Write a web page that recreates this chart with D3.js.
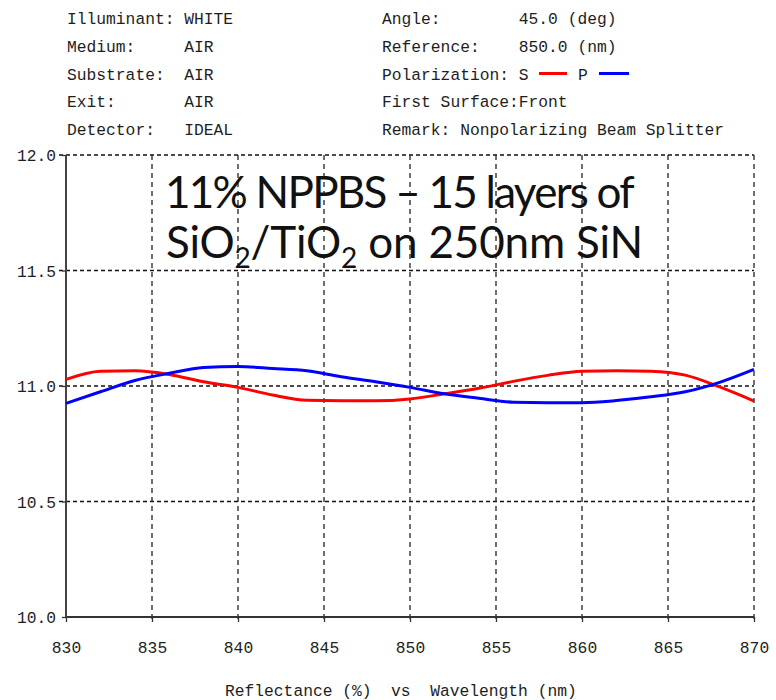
<!DOCTYPE html>
<html><head><meta charset="utf-8">
<script src="https://cdn.jsdelivr.net/npm/d3@7/dist/d3.min.js"></script>
<style>
body{margin:0;background:#fff}
.mono{font-family:"Liberation Mono","DejaVu Sans Mono",monospace;font-size:16.3px;fill:#1e1e1e;white-space:pre}
</style>
</head><body>
<svg id="chart" width="776" height="700"></svg>
<script>
// ---- data ----
const wavelengths = [830,832,834,836,838,840,842,844,846,848,850,852,854,856,858,860,862,864,866,868,870];
const sPolarization = [11.029,11.064,11.066,11.050,11.018,10.994,10.961,10.938,10.936,10.936,10.944,10.966,10.990,11.020,11.046,11.064,11.066,11.064,11.047,10.996,10.935];
const pPolarization = [10.925,10.975,11.024,11.055,11.080,11.084,11.076,11.066,11.040,11.018,10.994,10.966,10.947,10.930,10.928,10.928,10.937,10.953,10.975,11.016,11.072];
const xTicks = [830,835,840,845,850,855,860,865,870];
const yTicks = [10.0,10.5,11.0,11.5,12.0];
const headerLeft = ["Illuminant: WHITE","Medium:     AIR","Substrate:  AIR","Exit:       AIR","Detector:   IDEAL"];
const headerRight = ["Angle:        45.0 (deg)","Reference:    850.0 (nm)","Polarization: S","First Surface:Front","Remark: Nonpolarizing Beam Splitter"];
const xAxisTitle = "Reflectance (%)  vs  Wavelength (nm)";
const titleLine1 = "11% NPPBS \u2013 15 layers of";
const titleLine2 = [["SiO",false],["2",true],["/TiO",false],["2",true],[" on 250nm SiN",false]];

// ---- layout ----
const svg = d3.select("#chart");
const x = d3.scaleLinear().domain([830,870]).range([66,754]);
const y = d3.scaleLinear().domain([10,12]).range([617,155]);
const charW = 9.8;

// header
const rowY = i => 24 + i*27.75;
svg.append("g").selectAll("text").data(headerLeft).join("text")
  .attr("class","mono").attr("x",67).attr("y",(d,i)=>rowY(i)).text(d=>d);
svg.append("g").selectAll("text").data(headerRight).join("text")
  .attr("class","mono").attr("x",382).attr("y",(d,i)=>rowY(i)).text(d=>d);
svg.append("text").attr("class","mono").attr("x",382+20*charW).attr("y",rowY(2)).text("P");
svg.append("line").attr("x1",539).attr("x2",567).attr("y1",rowY(2)-6).attr("y2",rowY(2)-6)
  .attr("stroke","#ff0000").attr("stroke-width",3);
svg.append("line").attr("x1",599).attr("x2",629).attr("y1",rowY(2)-6).attr("y2",rowY(2)-6)
  .attr("stroke","#0000ff").attr("stroke-width",3);

// grid
const grid = svg.append("g");
grid.selectAll("line.h").data(yTicks.filter(v=>v>10)).join("line")
  .attr("x1",59).attr("x2",x(870)).attr("y1",d=>y(d)).attr("y2",d=>y(d))
  .attr("stroke","#111").attr("stroke-width",1.3).attr("stroke-dasharray","4,3");
grid.selectAll("line.v").data(xTicks.filter(v=>v>830)).join("line")
  .attr("x1",d=>x(d)).attr("x2",d=>x(d)).attr("y1",y(12)).attr("y2",y(10)+4)
  .attr("stroke","#222").attr("stroke-width",1.3).attr("stroke-dasharray","5,4");

// axes
const xAxis = d3.axisBottom(x).tickValues(xTicks).tickSize(5).tickPadding(19).tickFormat(d3.format("d"));
const gx = svg.append("g").attr("transform",`translate(0,${y(10)})`).call(xAxis);
gx.select(".domain").attr("stroke","#333").attr("stroke-width",2).attr("d",`M${x(830)},0H${x(870)}`);
gx.selectAll(".tick line").attr("stroke","#333").attr("stroke-width",1.3);
gx.selectAll(".tick text").attr("class","mono").attr("fill","#2a2a33").style("font-size","16.3px");

const yAxis = d3.axisLeft(y).tickValues(yTicks).tickSize(4).tickPadding(6).tickFormat(d3.format(".1f"));
const gy = svg.append("g").attr("transform",`translate(${x(830)},0)`).call(yAxis);
gy.select(".domain").attr("stroke","#444").attr("stroke-width",2).attr("d",`M0,${y(12)}V${y(10)}`);
gy.selectAll(".tick line").attr("stroke","#333").attr("stroke-width",1.3);
gy.selectAll(".tick text").attr("class","mono").attr("fill","#2a2a33").style("font-size","16.3px").attr("dy","0.35em");

// curves
const line = d3.line().x(d=>x(d[0])).y(d=>y(d[1])).curve(d3.curveMonotoneX);
svg.append("path").datum(wavelengths.map((w,i)=>[w,sPolarization[i]]))
  .attr("d",line).attr("fill","none").attr("stroke","#ff0000").attr("stroke-width",3);
svg.append("path").datum(wavelengths.map((w,i)=>[w,pPolarization[i]]))
  .attr("d",line).attr("fill","none").attr("stroke","#0000ff").attr("stroke-width",3);

// x axis title
svg.append("text").attr("class","mono").attr("x",225).attr("y",696).text(xAxisTitle);

// title overlay
const tFont = "Lato, 'Noto Sans', sans-serif";
const t1 = svg.append("text").attr("x",165).attr("y",208).attr("font-family",tFont)
  .attr("font-weight",400).attr("font-size",44).attr("fill","#111").text(titleLine1);
const t2 = svg.append("text").attr("x",166).attr("y",258).attr("font-family",tFont)
  .attr("font-weight",400).attr("font-size",44).attr("fill","#111");
titleLine2.forEach(([s,sub])=>{
  const ts = t2.append("tspan").text(s);
  if(sub){ ts.attr("font-size",28).attr("dy",10); }
  else if(t2.selectAll("tspan").size()>1){ ts.attr("dy",-10); }
});
function fit(t,target,n){
  const w = t.node().getComputedTextLength();
  t.attr("letter-spacing",((target-w)/n).toFixed(2));
}
fit(t1,468,titleLine1.length);
fit(t2,477,titleLine2.map(d=>d[0]).join("").length);
</script>
</body></html>
